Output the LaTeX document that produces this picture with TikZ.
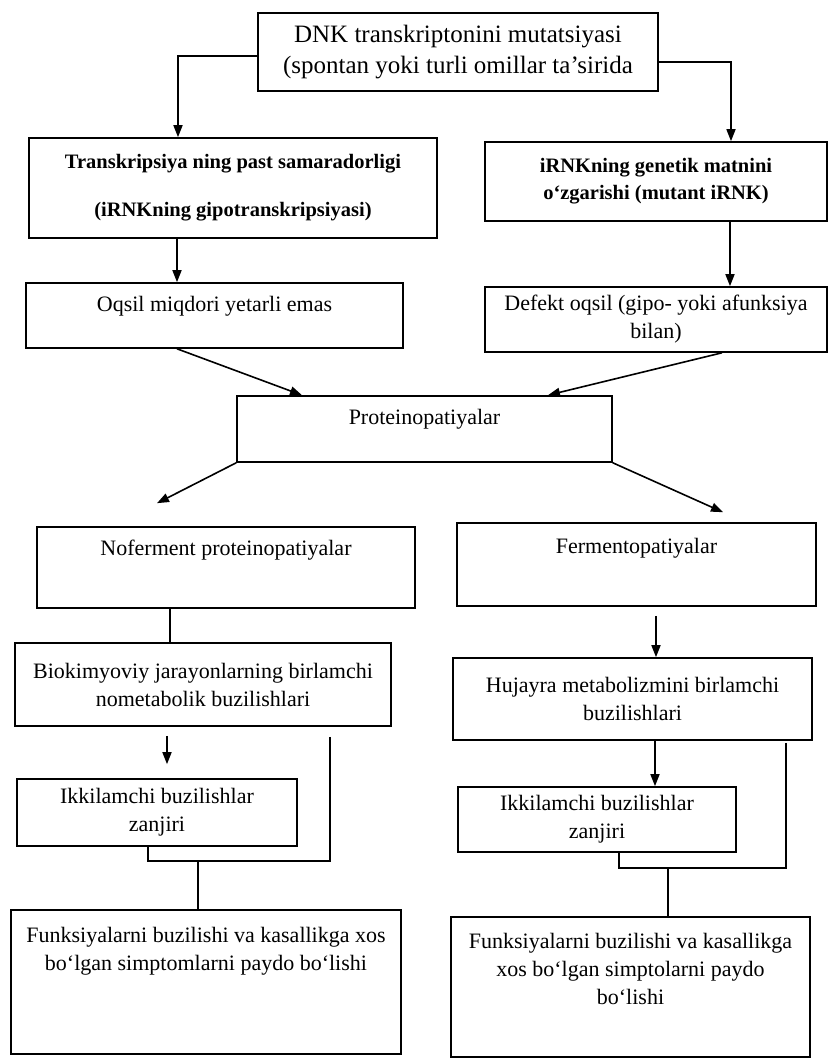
\documentclass[tikz,border=0pt]{standalone}
\usepackage{fontspec}
\setmainfont{Liberation Serif}
\usetikzlibrary{arrows.meta,positioning}

\tikzset{
    box/.style={draw, inner sep=0pt, align=center, font=\fontsize{22}{28}\selectfont},
    txt/.style={inner sep=0pt, align=center, font=\fontsize{22}{28}\selectfont},
    boldtxt/.style={font=\bfseries\fontsize{20.5}{27}\selectfont},
}

\begin{document}
\begin{tikzpicture}[>={Triangle[length=12pt,width=9pt]}, line width=1.6pt, x=1pt, y=-1pt]
    \useasboundingbox (0,0) rectangle (829,1059);
    \fill[white] (0,0) rectangle (829,1059);

    % 顶部方框
    \node[box, minimum width=400pt, minimum height=78pt, font=\fontsize{25}{31}\selectfont] (dnk) at (458,52)
        {DNK transkriptonini mutatsiyasi\\(spontan yoki turli omillar ta’sirida};

    % 第二层
    \node[box, boldtxt, minimum width=408pt, minimum height=100pt] (trans) at (233,188)
        {Transkripsiya ning past samaradorligi\\[21pt](iRNKning gipotranskripsiyasi)};
    \node[box, boldtxt, minimum width=342pt, minimum height=79pt] (irnk) at (656,181.5)
        {iRNKning genetik matnini\\o‘zgarishi (mutant iRNK)};

    % 第三层
    \node[box, minimum width=377pt, minimum height=65pt] (oqsil) at (214.5,315.5) {};
    \node[txt, below=13pt of oqsil.north] (oqsilt) {Oqsil miqdori yetarli emas};
    \node[box, minimum width=342pt, minimum height=65pt] (defekt) at (656,319.5)
        {Defekt oqsil (gipo- yoki afunksiya\\bilan)};

    % 中间方框
    \node[box, minimum width=375pt, minimum height=66pt] (protein) at (424.5,429) {};
    \node[txt, below=13pt of protein.north] (proteint) {Proteinopatiyalar};

    % 两个分支
    \node[box, minimum width=378pt, minimum height=81pt] (noferm) at (226,567.5) {};
    \node[txt, below=13pt of noferm.north] (nofermt) {Noferment proteinopatiyalar};
    \node[box, minimum width=359pt, minimum height=83pt] (ferm) at (636.5,564.5) {};
    \node[txt, below=15pt of ferm.north] (fermt) {Fermentopatiyalar};

    \node[box, minimum width=376pt, minimum height=83pt] (bio) at (203,684.5)
        {Biokimyoviy jarayonlarning birlamchi\\nometabolik buzilishlari};
    \node[box, minimum width=359pt, minimum height=82pt] (huj) at (632.5,699)
        {Hujayra metabolizmini birlamchi\\buzilishlari};

    \node[box, minimum width=280pt, minimum height=67pt] (ikkl) at (157,812.5)
        {Ikkilamchi buzilishlar\\zanjiri};
    \node[box, minimum width=278pt, minimum height=65pt] (ikkr) at (597,819.5)
        {Ikkilamchi buzilishlar\\zanjiri};

    % 底部方框
    \node[box, minimum width=390pt, minimum height=144pt] (funl) at (206,982) {};
    \node[txt, below=17pt of funl.north] (funlt)
        {Funksiyalarni buzilishi va kasallikga xos\\bo‘lgan simptomlarni paydo bo‘lishi};
    \node[box, minimum width=359pt, minimum height=140pt] (funr) at (630.5,987) {};
    \node[txt, below=16pt of funr.north] (funrt)
        {Funksiyalarni buzilishi va kasallikga\\xos bo‘lgan simptolarni paydo\\bo‘lishi};

    % 箭头
    \draw[->] ([yshift=-4pt]dnk.west) -| ([xshift=-55pt]trans.north);
    \draw[->] ([yshift=-10pt]dnk.east) -| ([xshift=75pt]irnk.north);
    \draw[->] ([xshift=-56pt]trans.south) -- ([xshift=-37.5pt]oqsil.north);
    \draw[->] ([xshift=74pt]irnk.south) -- ([xshift=74pt]defekt.north);
    \draw[->] ([xshift=-37.5pt]oqsil.south) -- ([xshift=-122.5pt]protein.north);
    \draw[->] ([xshift=66pt]defekt.south) -- ([xshift=123.5pt]protein.north);

    \coordinate (pn) at ([xshift=-69pt,yshift=23pt]noferm.north);
    \coordinate (pf) at ([xshift=86.5pt,yshift=10pt]ferm.north);
    \draw[->] (protein.south west) -- (pn);
    \draw[->] (protein.south east) -- (pf);

    \draw ([xshift=-56pt]noferm.south) -- ([xshift=-33pt]bio.north);
    \draw[->] ([xshift=19.5pt,yshift=-9pt]ferm.south) -- ([xshift=23.5pt]huj.north);
    \draw[->, shorten <=9pt, shorten >=14pt] ([xshift=-36pt]bio.south) -- ([xshift=10pt]ikkl.north);
    \draw[->] ([xshift=22.5pt]huj.south) -- ([xshift=58pt]ikkr.north);

    % 汇合线
    \draw ([xshift=127pt,yshift=-10pt]bio.south) -- ++(0,124) coordinate (jl) -| ([xshift=-9pt]ikkl.south);
    \coordinate (fl) at ([xshift=-8pt]funl.north);
    \draw (fl |- jl) -- (fl);
    \draw ([xshift=153.5pt,yshift=-2pt]huj.south) -- ++(0,125) coordinate (jr) -| ([xshift=22pt]ikkr.south);
    \coordinate (fr) at ([xshift=37.5pt]funr.north);
    \draw (fr |- jr) -- (fr);
\end{tikzpicture}
\end{document}
